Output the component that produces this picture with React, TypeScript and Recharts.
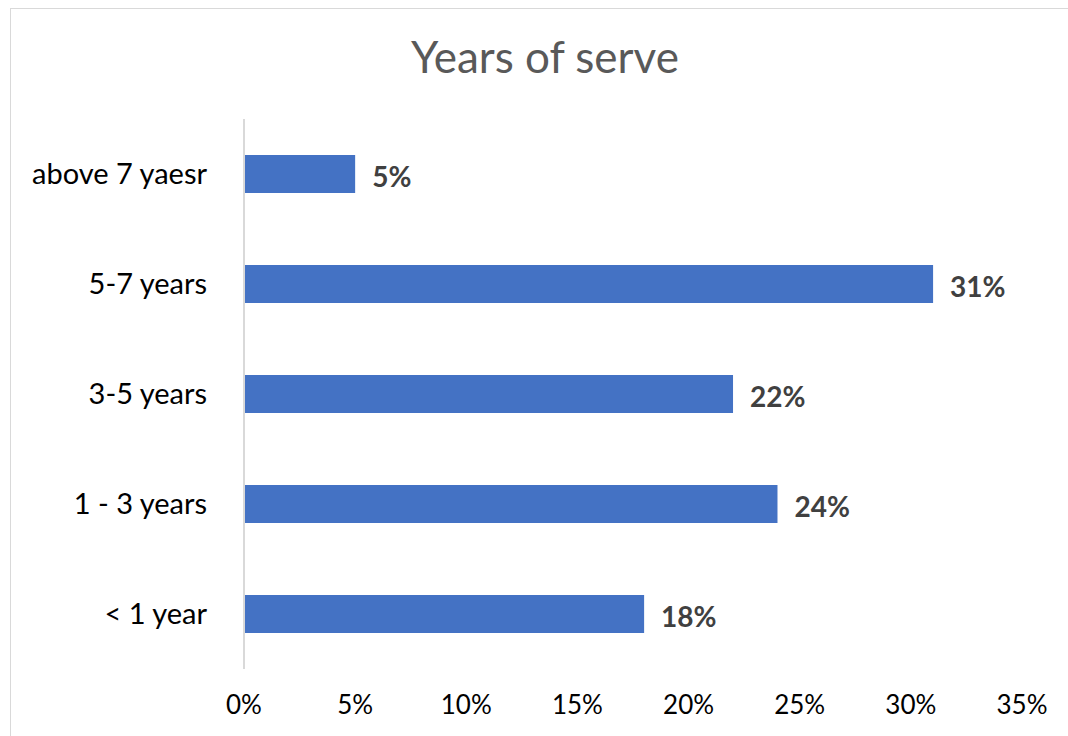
import React from "react";
import { BarChart, Bar, XAxis, YAxis, LabelList } from "recharts";

const categories = ["above 7 yaesr", "5-7 years", "3-5 years", "1 - 3 years", "< 1 year"];
const shares = [0.05, 0.31, 0.22, 0.24, 0.18];
const xTicks = [0, 0.05, 0.1, 0.15, 0.2, 0.25, 0.3, 0.35];

const data = categories.map((name, i) => ({ name, value: shares[i] }));

const FONT = "Lato, 'Noto Sans', sans-serif";
const pct = (v: number) => `${Math.round(v * 100)}%`;

export default function App() {
  return (
    <div
      style={{
        position: "absolute",
        left: 10,
        top: 8,
        width: 1080,
        height: 740,
        border: "1px solid #d9d9d9",
        background: "#fff",
        fontFamily: FONT,
        overflow: "hidden",
      }}
    >
      <div
        style={{
          position: "absolute",
          left: 0,
          width: 1068,
          top: 21,
          textAlign: "center",
          fontSize: 44,
          color: "#595959",
        }}
      >
        Years of serve
      </div>
      <div style={{ position: "absolute", left: 0, top: 0 }}>
        <BarChart
          width={1057}
          height={727}
          data={data}
          layout="vertical"
          margin={{ top: 110, right: 46, bottom: 27, left: 0 }}
          barSize={38}
        >
          <XAxis
            type="number"
            domain={[0, 0.35]}
            ticks={xTicks}
            tickFormatter={pct}
            axisLine={false}
            tickLine={false}
            tickSize={0}
            tickMargin={27}
            height={40}
            interval={0}
            tick={{ fontSize: 26, fill: "#000", fontFamily: FONT }}
          />
          <YAxis
            type="category"
            dataKey="name"
            width={233}
            axisLine={{ stroke: "#d9d9d9", strokeWidth: 2 }}
            tickLine={false}
            tickSize={0}
            tickMargin={37}
            interval={0}
            tick={{ fontSize: 29, fill: "#000", fontFamily: FONT }}
          />
          <Bar dataKey="value" fill="#4472c4" isAnimationActive={false}>
            <LabelList
              dataKey="value"
              position="right"
              offset={17}
              dy={3}
              formatter={(v: any) => pct(Number(v))}
              style={{ fontSize: 28, fontWeight: 700, fill: "#404040", fontFamily: FONT }}
            />
          </Bar>
        </BarChart>
      </div>
    </div>
  );
}
